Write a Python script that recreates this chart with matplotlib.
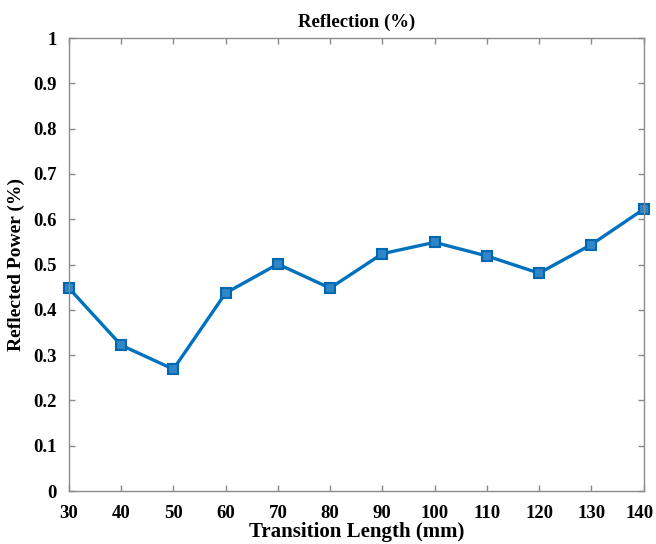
import numpy as np
import matplotlib
matplotlib.use('Agg')
import matplotlib.pyplot as plt

# data
transition_length = [30, 40, 50, 60, 70, 80, 90, 100, 110, 120, 130, 140]
reflected_power = [0.448, 0.322, 0.269, 0.437, 0.501, 0.448, 0.524, 0.549, 0.519, 0.481, 0.544, 0.622]
x_ticks = list(range(30, 141, 10))
x_tick_labels = [str(t) for t in x_ticks]
y_ticks = [0, 0.1, 0.2, 0.3, 0.4, 0.5, 0.6, 0.7, 0.8, 0.9, 1]
y_tick_labels = ['0', '0.1', '0.2', '0.3', '0.4', '0.5', '0.6', '0.7', '0.8', '0.9', '1']

plt.rcParams['font.family'] = ['Liberation Serif', 'DejaVu Serif']
plt.rcParams['font.weight'] = 'bold'

fig = plt.figure(figsize=(6.56, 5.44), dpi=100)
ax = fig.add_axes([0.105, 0.0974, 0.876, 0.8326])

ax.plot(transition_length, reflected_power, color='#0072BD', linewidth=2.4,
        marker='s', markersize=7, markerfacecolor='#2f86c8',
        markeredgecolor='#0068b0', markeredgewidth=1.5, clip_on=False)

ax.set_xlim(30, 140)
ax.set_ylim(0, 1)
ax.set_xticks(x_ticks)
# the last x label is drawn separately, nudged left so it stays inside the figure
ax.set_xticklabels(x_tick_labels[:-1] + [''])
ax.set_yticks(y_ticks)
ax.set_yticklabels(y_tick_labels)

for side in ax.spines.values():
    side.set_color('#8a8a8a')
    side.set_linewidth(1.0)
ax.tick_params(direction='in', top=True, right=True, length=4, width=1,
               color='#8a8a8a', labelsize=13.5, labelcolor='black')
ax.tick_params(axis='x', pad=10)
ax.tick_params(axis='y', pad=9)
ax.annotate(x_tick_labels[-1], xy=(x_ticks[-1], 0), xycoords=('data', 'axes fraction'),
            xytext=(-3, -10), textcoords='offset points', ha='center', va='top',
            fontsize=13.5, fontweight='bold')

ax.set_title('Reflection (%)', fontsize=13.5, fontweight='bold', pad=8)
ax.set_xlabel('Transition Length (mm)', fontsize=15, fontweight='bold', labelpad=0)
ax.set_ylabel('Reflected Power (%)', fontsize=14, fontweight='bold')
ax.yaxis.set_label_coords(-0.077, 0.5)

fig.savefig('out.png', dpi=100)
